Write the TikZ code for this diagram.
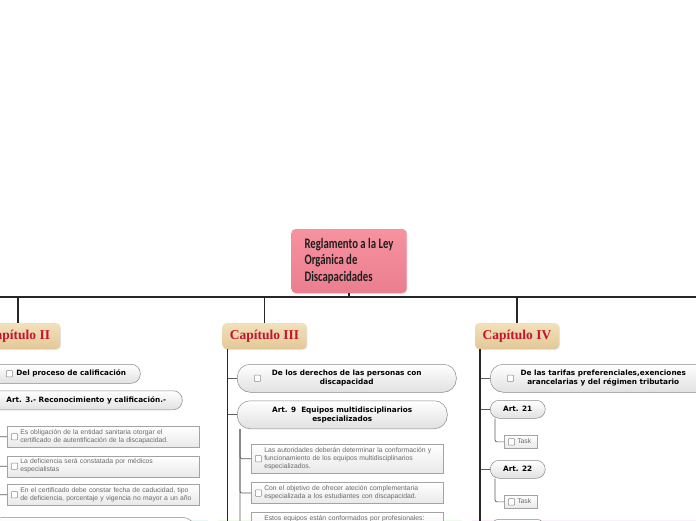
\documentclass[tikz,border=0pt]{standalone}
\usepackage{fontspec}
\usetikzlibrary{positioning,backgrounds,shadows}
\newfontfamily\rootfont[FakeStretch=0.74]{Carlito}
\newfontfamily\capfont{Liberation Serif}
\newfontfamily\pillfont{DejaVu Sans}
\newfontfamily\taskfont{Liberation Sans}
\definecolor{roottop}{HTML}{F7929F}
\definecolor{rootbot}{HTML}{EA7E8F}
\definecolor{rootink}{HTML}{1E1E1E}
\definecolor{captop}{HTML}{F3E1BA}
\definecolor{capbot}{HTML}{E2C897}
\definecolor{capred}{HTML}{C41230}
\definecolor{panelii}{HTML}{E5F7F7}
\definecolor{paneliii}{HTML}{EDFBE9}
\definecolor{paneliv}{HTML}{FCEEFC}
\definecolor{pillline}{HTML}{8A8A8A}
\definecolor{pillbot}{HTML}{E1E1E1}
\definecolor{taskline}{HTML}{A3A3A3}
\definecolor{taskbot}{HTML}{E9E9E9}
\definecolor{taskink}{HTML}{6A6A6A}
\definecolor{twigcol}{HTML}{5C5C5C}
\newcommand\tasklines[1]{\hspace*{10pt}\begin{tabular}{@{}l@{}}#1\end{tabular}}

\begin{document}
\begin{tikzpicture}[
  x=1pt, y=-1pt,
  root/.style={rounded corners=4pt, top color=roottop, bottom color=rootbot,
               text=rootink, align=left, minimum width=115pt, minimum height=64pt,
               font=\rootfont\bfseries\fontsize{14.5}{16.5}\selectfont,
               drop shadow={opacity=0.2, shadow xshift=0.8pt, shadow yshift=-0.8pt}},
  chapter/.style={rounded corners=4pt, top color=captop, bottom color=capbot,
                  minimum width=84pt, minimum height=26pt, text=capred,
                  font=\capfont\bfseries\fontsize{13.5}{14}\selectfont,
                  drop shadow={opacity=0.2, shadow xshift=0.8pt, shadow yshift=-0.8pt}},
  pill/.style={draw=pillline, line width=0.5pt, top color=white, bottom color=pillbot,
               rounded corners=9pt, minimum height=19pt, anchor=north west,
               align=center, inner sep=1pt, text=black,
               font=\pillfont\bfseries\fontsize{7.3}{9}\selectfont},
  bigpill/.style={pill, rounded corners=13pt, minimum height=28pt},
  chkbox/.style={path picture={
      \draw[pillline, fill=white, line width=0.5pt, rounded corners=0.8pt]
        ([xshift=#1]path picture bounding box.west) ++(0pt,-3.2pt) rectangle ++(6.4pt,6.4pt);}},
  chkbox/.default=17pt,
  task/.style={draw=taskline, line width=0.5pt, top color=white, bottom color=taskbot,
               anchor=north west, align=left, text width=#1,
               inner xsep=3pt, inner ysep=2.7pt, text=taskink,
               font=\taskfont\fontsize{6.8}{7.8}\selectfont, chkbox=4pt},
  task/.default=186pt,
  bar/.style={line width=1.5pt, black!85},
  trunk/.style={line width=1.4pt, black!85},
  twig/.style={line width=0.7pt, twigcol, rounded corners=2pt},
]
\useasboundingbox (0,0) rectangle (696,520);
\clip (0,0) rectangle (696,520);
\fill[white] (0,0) rectangle (696,520);

% ---------------------------------------------------------------- root
\node[root] (reg) at (349,261) {Reglamento a la Ley\\Orgánica de\\Discapacidades};

% ------------------------------------------------------------ chapters
\node[chapter] (cap2) at (18,336)    {Capítulo II};
\node[chapter] (cap3) at (264.5,336) {Capítulo III};
\node[chapter] (cap4) at (517,336)   {Capítulo IV};

\begin{scope}[on background layer]
  \fill[panelii]  (-40,318) rectangle (208,540);
  \fill[paneliii] (218,318) rectangle (462,540);
  \fill[paneliv]  (472,318) rectangle (740,540);
\end{scope}

% ---------------------------------------------------------- capitulo II
\node[pill, chkbox=16pt, minimum width=150pt] (proc) at (-10,364)
  {\hspace*{12pt}Del proceso de calificación};
\node[pill, minimum width=192pt, below=7pt of proc.south west, anchor=north west] (art3)
  {Art. 3.- Reconocimiento y calificación.-};

\node[task] (oblig) at (7,426)
  {\tasklines{Es obligación de la entidad sanitaria otorgar el\\certificado de autentificación de la discapacidad.}};
\node[task, below=8pt of oblig.south west, anchor=north west] (defic)
  {\tasklines{La deficiencia será constatada por médicos\\especialistas}};
\node[task, below=7pt of defic.south west, anchor=north west] (certif)
  {\tasklines{En el certificado debe constar fecha de caducidad, tipo\\de deficiencia, porcentaje y vigencia no mayor a un año}};
\node[bigpill, minimum width=205pt] (nextii) at (-10,517) {};

% --------------------------------------------------------- capitulo III
\node[bigpill, chkbox, minimum width=219pt] (derechos) at (237,364)
  {De los derechos de las personas con\\discapacidad};
\node[bigpill, minimum width=210pt, below=8pt of derechos.south west, anchor=north west] (art9)
  {Art. 9\ \ Equipos multidisciplinarios\\especializados};

\node[task] (autor) at (251,444)
  {\tasklines{Las autoridades deberán determinar la conformación y\\funcionamiento de los equipos multidisciplinarios\\especializados.}};
\node[task, below=9pt of autor.south west, anchor=north west] (objet)
  {\tasklines{Con el objetivo de ofrecer ateción complementaria\\especializada a los estudiantes con discapacidad.}};
\node[task, below=8pt of objet.south west, anchor=north west] (equipos)
  {\tasklines{Estos equipos están conformados por profesionales:\\\phantom{x}\\\phantom{x}}};

% ---------------------------------------------------------- capitulo IV
\node[bigpill, chkbox, minimum width=226pt] (tarifas) at (490,364)
  {De las tarifas preferenciales,exenciones\\arancelarias y del régimen tributario};
\node[pill, minimum width=55pt, minimum height=18pt] (art21) at (490,400) {Art. 21};
\node[task=27pt] (task21) at (504,435) {\tasklines{Task}};
\node[pill, minimum width=55pt, minimum height=18pt] (art22) at (490,460) {Art. 22};
\node[task=27pt] (task22) at (504,495) {\tasklines{Task}};
\node[pill, minimum width=55pt, minimum height=18pt] (art23) at (490,519) {};

% ------------------------------------------------------------- lines
\coordinate (barL) at (-5,297);
\coordinate (barR) at (701,297);
\draw[bar] (barL) -- (barR);
\draw[bar] (reg.south) -- (reg.south |- barL);
\foreach \c in {cap2,cap3,cap4}
  \draw[bar] (\c.north) -- (\c.north |- barL);

\coordinate (trunkii)  at ([xshift=5pt]cap2.south west);
\coordinate (trunkiii) at ([xshift=5pt]cap3.south west);
\coordinate (trunkiv)  at ([xshift=5pt]cap4.south west);

\foreach \p in {proc,art3,nextii}
  \draw[twig] (\p.west) -- (\p.west -| trunkii);
\foreach \p in {derechos,art9}
  \draw[twig] (\p.west) -- (\p.west -| trunkiii);
\foreach \p in {tarifas,art21,art22,art23}
  \draw[twig] (\p.west) -- (\p.west -| trunkiv);

\draw[trunk] (trunkii)  -- ++(0,200);
\draw[trunk] (trunkiii) -- ++(0,200);
\draw[trunk] (trunkiv)  -- ++(0,200);

\foreach \t in {oblig,defic,certif}
  \draw[twig] ([xshift=3pt]art3.south west) |- (\t.west);
\foreach \t in {autor,objet,equipos}
  \draw[twig] ([xshift=3pt]art9.south west) |- (\t.west);
\draw[twig] ([xshift=5pt]art21.south west) |- (task21.west);
\draw[twig] ([xshift=5pt]art22.south west) |- (task22.west);

\end{tikzpicture}
\end{document}
